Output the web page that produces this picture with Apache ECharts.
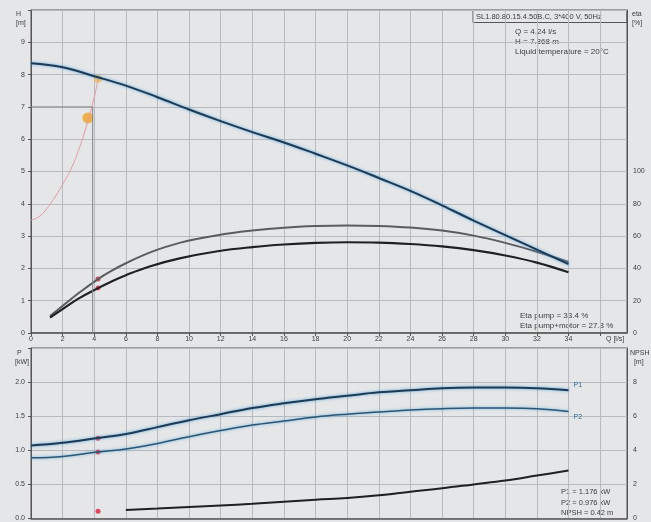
<!DOCTYPE html>
<html><head><meta charset="utf-8">
<script src="https://cdn.jsdelivr.net/npm/echarts@6/dist/echarts.min.js"></script>
<style>html,body{margin:0;padding:0;background:#e4e6e8}#c{width:651px;height:522px}</style>
</head><body><div id="c"></div>
<script>
// ---- data ----
const qHead = [0,2,4,6,8,10,12,14,16,18,20,22,24,26,28,30,32,34];
const head  = [8.35,8.23,7.95,7.66,7.3,6.92,6.56,6.22,5.9,5.55,5.19,4.8,4.4,3.95,3.48,3.03,2.58,2.13];
const qEta  = [1.2,2,3,4.24,5,6,7.5,9.4,11.8,14,16,18,20,22,24,26,28,30,32,34];
const etaPump      = [10.5,16.8,24.6,33.4,38,43.2,49.8,55.8,60.5,63.4,65.2,66.2,66.6,66.3,65.3,63.4,60.3,55.8,50.3,44];
const etaPumpMotor = [9.5,14.8,21.3,27.8,31.5,35.8,41.2,46.2,50.6,53.2,54.8,55.8,56.2,56,55.1,53.6,51.3,48,43.6,37.6];
const qSys  = [0,0.5,1,1.5,2,2.5,3,3.5,4,4.24];
const hSys  = [3.5,3.6,3.85,4.2,4.6,5.05,5.65,6.4,7.3,7.87];
const qPow  = [0,2,4.2,6,8,10,12,14,16,18,20,22,24,26,28,30,32,34];
const p1    = [1.07,1.11,1.18,1.24,1.34,1.44,1.53,1.62,1.69,1.75,1.8,1.85,1.88,1.91,1.92,1.92,1.91,1.88];
const p2    = [0.89,0.91,0.976,1.02,1.1,1.2,1.29,1.37,1.43,1.49,1.53,1.56,1.59,1.61,1.62,1.62,1.61,1.57];
const qNpsh = [6,8,10,12,14,16,18,20,22,24,26,28,30,32,34];
const npsh  = [0.5,0.58,0.67,0.76,0.86,0.98,1.1,1.2,1.36,1.57,1.77,2.0,2.23,2.52,2.81];
const dutyQ = 4.24, dutyH = 7.87;           // operating point
const reqQ = 3.6, reqH = 6.66;              // required point
const refQ = 3.9, refH = 7;                 // guide lines
const opEtaPump = 33.4, opEtaPM = 27.8, opP1 = 1.176, opP2 = 0.976, opNpsh = 0.42;
const xTicks = [0,2,4,6,8,10,12,14,16,18,20,22,24,26,28,30,32,34];

const pairs = (xs, ys) => xs.map((x,i)=>[x, ys[i]]);
const FONT = 'Liberation Sans, Arial, sans-serif';
const TXT = '#3a3d40';
const GRIDC = '#b7bbc0';

const xBase = (gi, show) => ({
  type:'value', gridIndex:gi, min:0, max:37.7, interval:2,
  axisLine:{show:true, lineStyle:{color:'#555', width:1.5}},
  axisTick:{show:show, length:3, lineStyle:{color:'#555'}},
  splitLine:{show:true, lineStyle:{color:GRIDC, width:1}},
  axisLabel:{show:show, fontSize:7, fontFamily:FONT, color:TXT, margin:3, showMaxLabel:false,
    formatter:v => xTicks.indexOf(v) >= 0 ? String(v) : ''}
});
const yBase = (gi, pos, min, max, iv, split, fmt, tick) => ({
  type:'value', gridIndex:gi, position:pos, min, max, interval:iv,
  axisLine:{show:true, lineStyle:{color:'#555'}},
  axisTick:{show:tick, length:3, lineStyle:{color:'#555'}},
  splitLine:{show:split, lineStyle:{color:GRIDC, width:1}},
  axisLabel:{fontSize:7, fontFamily:FONT, color:TXT, margin:6, formatter:fmt}
});

const curveStyle = (c, w, glow) => ({color:c, width:w, shadowColor:glow||'transparent', shadowBlur:glow?3:0});

const chart = echarts.init(document.getElementById('c'), null, {renderer:'canvas'});
chart.setOption({
  backgroundColor:'#e4e6e8',
  animation:false,
  grid:[
    {left:31, right:24, top:10, height:323, show:true, borderColor:'#555', borderWidth:1},
    {left:31, right:24, top:348, height:172.5, show:true, borderColor:'#555', borderWidth:1}
  ],
  xAxis:[ xBase(0,true), xBase(1,false) ],
  yAxis:[
    yBase(0,'left',0,10,1,true, v => v===10?'':String(v), true),
    yBase(0,'right',0,200,20,false, v => v>100?'':String(v), false),
    yBase(1,'left',0,2.5,0.5,true, v => v>=2.5?'':v.toFixed(1), true),
    yBase(1,'right',0,10,2,false, v => v>=10?'':String(v), false)
  ],
  series:[
    {type:'line', xAxisIndex:0, yAxisIndex:1, data:pairs(qEta, etaPump), smooth:0.4, showSymbol:false,
     lineStyle:curveStyle('#5a5d60',2)},
    {type:'line', xAxisIndex:0, yAxisIndex:1, data:pairs(qEta, etaPumpMotor), smooth:0.4, showSymbol:false,
     lineStyle:curveStyle('#1e2022',2.2)},
    {type:'line', xAxisIndex:0, yAxisIndex:0, data:pairs(qSys, hSys), smooth:true, showSymbol:false,
     lineStyle:{color:'#e69a9e', width:1}},
    {type:'line', xAxisIndex:0, yAxisIndex:0, data:[[0,refH],[refQ,refH],[refQ,0]], showSymbol:false,
     lineStyle:{color:'#7f858c', width:1}},
    {type:'line', xAxisIndex:0, yAxisIndex:0, data:pairs(qHead, head), smooth:0.4, showSymbol:false,
     lineStyle:curveStyle('#1d3a57',2,'rgba(70,160,215,0.9)')},
    {type:'scatter', xAxisIndex:0, yAxisIndex:0, data:[[reqQ,reqH]], symbolSize:11, itemStyle:{color:'#f0a21e'}},
    {type:'scatter', xAxisIndex:0, yAxisIndex:0, data:[[dutyQ,dutyH]], symbolSize:8, itemStyle:{color:'#f7bd52'}},
    {type:'scatter', xAxisIndex:0, yAxisIndex:1, data:[[dutyQ,opEtaPump],[dutyQ,opEtaPM]], symbolSize:5, itemStyle:{color:'#e0203a'}},
    {type:'line', xAxisIndex:1, yAxisIndex:2, data:pairs(qPow, p1), smooth:0.4, showSymbol:false,
     lineStyle:curveStyle('#1d3a57',2,'rgba(70,160,215,0.9)'),
     endLabel:{show:true, formatter:'P1', fontSize:7, fontFamily:FONT, color:'#2a6a95', offset:[-3,-5]}},
    {type:'line', xAxisIndex:1, yAxisIndex:2, data:pairs(qPow, p2), smooth:0.4, showSymbol:false,
     lineStyle:curveStyle('#2c5676',1.5,'rgba(70,160,215,0.8)'),
     endLabel:{show:true, formatter:'P2', fontSize:7, fontFamily:FONT, color:'#2a6a95', offset:[-3,6]}},
    {type:'line', xAxisIndex:1, yAxisIndex:3, data:pairs(qNpsh, npsh), smooth:0.4, showSymbol:false,
     lineStyle:curveStyle('#1e2022',2)},
    {type:'scatter', xAxisIndex:1, yAxisIndex:2, data:[[dutyQ,opP1],[dutyQ,opP2]], symbolSize:5, itemStyle:{color:'#e0203a'}},
    {type:'scatter', xAxisIndex:1, yAxisIndex:3, data:[[dutyQ,opNpsh]], symbolSize:5, itemStyle:{color:'#e0203a'}}
  ],
  graphic:[
    {type:'text', left:16, top:10, style:{text:'H\n[m]', font:'7px '+FONT, fill:TXT, lineHeight:9, align:'left'}},
    {type:'text', left:632, top:10, style:{text:'eta\n[%]', font:'7px '+FONT, fill:TXT, lineHeight:9}},
    {type:'text', left:15, top:349, style:{text:' P\n[kW]', font:'7px '+FONT, fill:TXT, lineHeight:9}},
    {type:'text', left:630, top:349, style:{text:'NPSH\n  [m]', font:'7px '+FONT, fill:TXT, lineHeight:9}},
    {type:'text', left:606, top:336, style:{text:'Q [l/s]', font:'7px '+FONT, fill:TXT}},
    {type:'rect', shape:{x:473, y:10.5, width:154, height:12}, style:{fill:'transparent', stroke:'#555', lineWidth:1}},
    {type:'text', left:476, top:13, style:{text:'SL1.80.80.15.4.50B.C, 3*400 V, 50Hz', font:'7.5px '+FONT, fill:TXT}},
    {type:'text', left:515, top:27, style:{text:'Q = 4.24 l/s\nH = 7.868 m\nLiquid temperature = 20°C', font:'8px '+FONT, fill:TXT, lineHeight:10}},
    {type:'text', left:520, top:311, style:{text:'Eta pump = 33.4 %\nEta pump+motor = 27.8 %', font:'8px '+FONT, fill:TXT, lineHeight:10}},
    {type:'text', left:561, top:487, style:{text:'P1 = 1.176 kW\nP2 = 0.976 kW\nNPSH = 0.42 m', font:'7.5px '+FONT, fill:TXT, lineHeight:10.5}}
  ]
});
</script></body></html>
